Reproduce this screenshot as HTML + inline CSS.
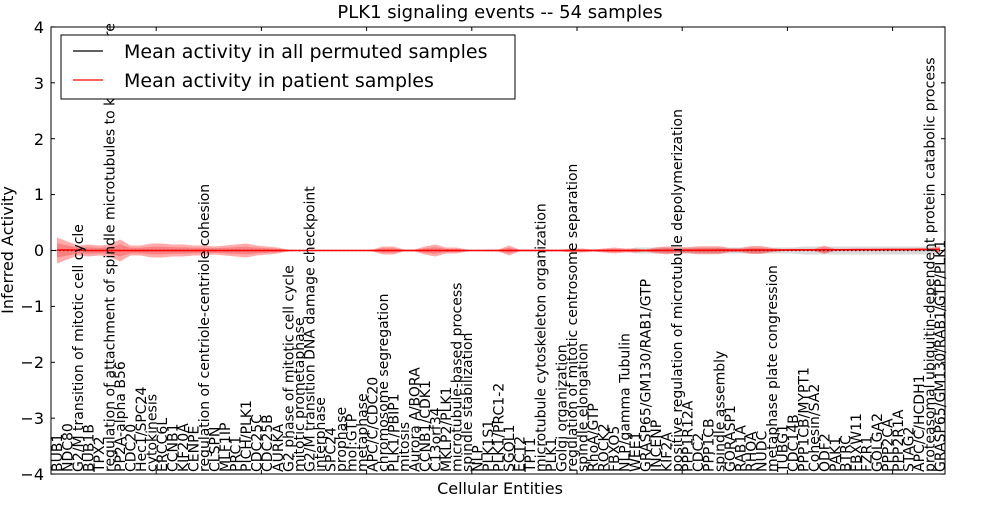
<!DOCTYPE html>
<html><head><meta charset="utf-8"><style>
body{margin:0;background:#fff;width:1000px;height:500px;overflow:hidden}
svg text{font-family:"DejaVu Sans","Liberation Sans",sans-serif}
</style></head><body>
<svg id="s" width="1000" height="500" xmlns="http://www.w3.org/2000/svg">
<rect width="1000" height="500" fill="#fff"/>
<g id="bands"></g>
<line x1="51" y1="250.5" x2="945" y2="250.5" stroke="#000" stroke-width="1.2" stroke-dasharray="1.5,2.5"/>
<g id="lines"></g>
<g id="labels" font-size="14"></g>
<rect x="51" y="27" width="894" height="447" fill="none" stroke="#000" stroke-width="1"/>
<g id="ticks" stroke="#000" stroke-width="1"></g>
<g font-size="16" text-anchor="end">
<text x="44" y="33">4</text><text x="44" y="89">3</text><text x="44" y="145">2</text><text x="44" y="200">1</text><text x="44" y="256">0</text><text x="44" y="312">−1</text><text x="44" y="368">−2</text><text x="44" y="424">−3</text><text x="44" y="480">−4</text>
</g>
<text x="500" y="18" font-size="18" text-anchor="middle">PLK1 signaling events -- 54 samples</text>
<text x="500" y="494" font-size="16" text-anchor="middle">Cellular Entities</text>
<text transform="translate(13,250) rotate(-90)" font-size="16" text-anchor="middle">Inferred Activity</text>
<rect x="61" y="35" width="454" height="64" fill="#fff" stroke="#000" stroke-width="1"/>
<line x1="73" y1="51" x2="103" y2="51" stroke="#000" stroke-width="1.3"/>
<line x1="73" y1="80" x2="103" y2="80" stroke="#f00" stroke-width="1.3"/>
<text x="124" y="58" font-size="19">Mean activity in all permuted samples</text>
<text x="124" y="87" font-size="19">Mean activity in patient samples</text>
</svg>
<script>
var L=["BUB1","NDC80","G2/M transition of mitotic cell cycle","BUB1B","TPX2","regulation of attachment of spindle microtubules to kinetochore","PP2A-alpha B56","CDC20","Hec1/SPC24","cytokinesis","ERCC6L","CCNB1","KIF20A","CENPE","regulation of centriole-centriole cohesion","CLSPN","MLF1IP","PRC1","PICH/PLK1","CDC25C","CDC25B","AURKA","G2 phase of mitotic cell cycle","mitotic prometaphase","G2/M transition DNA damage checkpoint","interphase","SPC24","prophase","mol:GTP","metaphase","APC/C/CDC20","chromosome segregation","PLK1/PBIP1","mitosis","Aurora A/BORA","CCNB1/CDK1","C13orf34","MKLP2/PLK1","microtubule-based process","spindle stabilization","NLP","PLK1S1","PLK1/PRC1-2","SGOL1","ECT2","TPT1","microtubule cytoskeleton organization","PLK1","Golgi organization","regulation of mitotic centrosome separation","spindle elongation","RhoA/GTP","ROCK2","FBXO5","NLP/gamma Tubulin","WEE1","GRASP65/GM130/RAB1/GTP","INCENP","KIF2A","positive regulation of microtubule depolymerization","PPP1R12A","CDC2","PPP1CB","spindle assembly","GORASP1","RAB1A","RHOA","NUDC","metaphase plate congression","TUBG1","CDC14B","PPP1CB/MYPT1","Cohesin/SA2","ODF2","PAK1","BTRC","FBXW11","FZR1","GOLGA2","PPP2CA","PPP2R1A","STAG2","APC/C/HCDH1","proteasomal ubiquitin-dependent protein catabolic process","GRASP65/GM130/RAB1/GTP/PLK1"];
var n=L.length,x0=57,dx=(940-57)/(n-1),y0=250.5,NS="http://www.w3.org/2000/svg";
function X(i){return x0+dx*i}
var hw=[13,9,5,6,5,6,11,5,5,7,7,6,6,5,5,4,5,6,7,5,4,3,1,0,0,0,0,0,0,0,1,4,4,1,1,4,6,3,3,1,0,1,1,5,1,1,1,1,1,2,2,1,2,3,2,2,1,3,4,3,3,4,4,4,2,2,4,4,2,1,1,1,1,4,1,1,1,1,1,1,1,1,1,1,3];
var gw=[];for(var i=0;i<n;i++)gw.push(i>54?(i>70?4:3):0);
function band(w,c,op,off){var p="M";for(var i=0;i<n;i++)p+=X(i)+","+(y0-w[i]-off(i))+" L";for(var i=n-1;i>=0;i--)p+=X(i)+","+(y0+w[i]-off(i))+(i?" L":" Z");var e=document.createElementNS(NS,"path");e.setAttribute("d",p);e.setAttribute("fill",c);e.setAttribute("fill-opacity",op);document.getElementById("bands").appendChild(e);}
band(gw,"#999",0.35,function(){return 0});
band(hw,"#f44",0.45,function(i){return i>55?(i-55)*0.04:0});
var inner=hw.map(function(v){return v*0.55});band(inner,"#e33",0.35,function(){return 0});
var pl="";for(var i=0;i<n;i++)pl+=X(i)+","+(y0-(i>55?(i-55)*0.04:0)-(i<3?0.5:0))+" ";
var e=document.createElementNS(NS,"polyline");e.setAttribute("points",pl);e.setAttribute("fill","none");e.setAttribute("stroke","#f00");e.setAttribute("stroke-width","1.5");document.getElementById("lines").appendChild(e);
var g=document.getElementById("labels");
for(var i=0;i<n;i++){var t=document.createElementNS(NS,"text");t.setAttribute("transform","translate("+(X(i)+5)+",472) rotate(-90)");t.textContent=L[i];g.appendChild(t);}
var tk=document.getElementById("ticks"),s="";
for(var k=-4;k<=4;k++){var y=y0-k*55.9;s+='<line x1="51" y1="'+y+'" x2="55" y2="'+y+'"/><line x1="941" y1="'+y+'" x2="945" y2="'+y+'"/>';}
for(var k=0;k<=90;k+=10){var x=51+k*10.52;if(x>945)break;s+='<line x1="'+x+'" y1="27" x2="'+x+'" y2="31"/><line x1="'+x+'" y1="470" x2="'+x+'" y2="474"/>';}
tk.innerHTML=s;
</script>
</body></html>
